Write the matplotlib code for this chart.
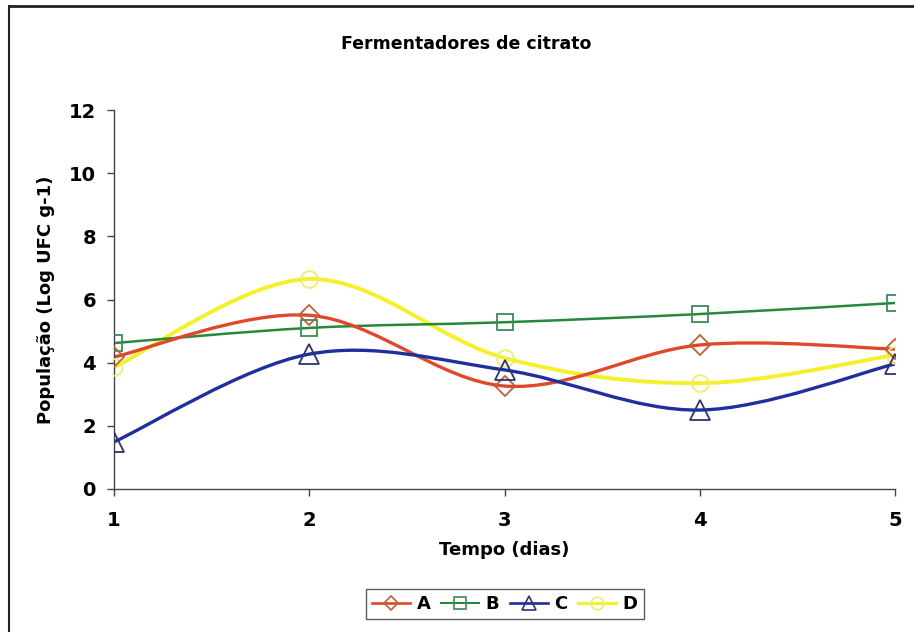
import numpy as np
import matplotlib
matplotlib.use("Agg")
import matplotlib.pyplot as plt
from matplotlib.path import Path
from matplotlib.patches import PathPatch
from matplotlib.lines import Line2D

# population counts per fermenter (log UFC/g) by sampling day
dias = [1, 2, 3, 4, 5]
pop_a = [4.18, 5.50, 3.26, 4.56, 4.43]
pop_b = [4.62, 5.10, 5.28, 5.54, 5.89]
pop_c = [1.49, 4.27, 3.77, 2.50, 3.96]
pop_d = [3.86, 6.65, 4.15, 3.35, 4.24]
series = ['A', 'B', 'C', 'D']


def smooth_path(x, y):
    # Excel-style smoothed line: cubic Bezier through every point
    x = np.asarray(x, float)
    y = np.asarray(y, float)
    n = len(x)
    verts = [(x[0], y[0])]
    codes = [Path.MOVETO]
    for i in range(n - 1):
        x0, y0 = (x[i - 1], y[i - 1]) if i > 0 else (x[i], y[i])
        x3, y3 = (x[i + 2], y[i + 2]) if i + 2 < n else (x[i + 1], y[i + 1])
        c1 = (x[i] + (x[i + 1] - x0) / 6, y[i] + (y[i + 1] - y0) / 6)
        c2 = (x[i + 1] - (x3 - x[i]) / 6, y[i + 1] - (y3 - y[i]) / 6)
        verts += [c1, c2, (x[i + 1], y[i + 1])]
        codes += [Path.CURVE4] * 3
    return Path(verts, codes)


styles = {
    'A': dict(y=pop_a, line='#e0482c', edge='#c0603a', marker='D', ms=10, lw=2.4),
    'B': dict(y=pop_b, line='#27873a', edge='#3c8a58', marker='s', ms=12, lw=1.8),
    'C': dict(y=pop_c, line='#1f2f9e', edge='#2c3570', marker='^', ms=14, lw=2.4),
    'D': dict(y=pop_d, line='#f4f02a', edge='#f0ec70', marker='o', ms=12, lw=2.8),
}
order = ['D', 'B', 'A', 'C']

fig = plt.figure(figsize=(9.14, 6.32), dpi=100)
ax = fig.add_axes([114 / 914, 1 - 489 / 632, (895 - 114) / 914, (489 - 110) / 632])

handles = {}
for k in order:
    st = styles[k]
    ax.add_patch(PathPatch(smooth_path(dias, st['y']), fill=False,
                           edgecolor=st['line'], lw=st['lw'], zorder=2))
    ax.plot(dias, st['y'], linestyle='none', marker=st['marker'], ms=st['ms'],
            mfc='none', mec=st['edge'], mew=1.3, zorder=3)
for k in series:
    st = styles[k]
    handles[k] = Line2D([], [], color=st['line'], lw=st['lw'] * 0.8,
                        marker=st['marker'], ms=st['ms'] * 0.75, mfc='none',
                        mec=st['edge'], mew=1.2)

ax.set_xlim(1, 5)
ax.set_ylim(0, 12)
ax.set_xticks(dias)
ax.set_yticks(range(0, 13, 2))
for s in ('top', 'right'):
    ax.spines[s].set_visible(False)
for s in ('left', 'bottom'):
    ax.spines[s].set_color('#444444')
    ax.spines[s].set_linewidth(1.0)
ax.tick_params(direction='out', length=5, width=1, color='#444444',
               labelsize=14)
ax.tick_params(axis='x', pad=11)
ax.tick_params(axis='y', pad=8)
for lab in ax.get_xticklabels() + ax.get_yticklabels():
    lab.set_fontweight('bold')
ax.set_xlabel('Tempo (dias)', fontsize=13, fontweight='bold', labelpad=8)
ax.set_ylabel('População (Log UFC g-1)', fontsize=13, fontweight='bold', labelpad=10)

fig.text(466 / 914, 1 - 44 / 632, 'Fermentadores de citrato', ha='center',
         va='center', fontsize=12.5, fontweight='bold')

leg = fig.legend([handles[k] for k in series], series, loc='center',
                 bbox_to_anchor=(505 / 914, 1 - 604 / 632), ncol=4,
                 frameon=True, fancybox=False, handlelength=2.1,
                 handletextpad=0.35, columnspacing=0.6, borderpad=0.35,
                 borderaxespad=0, prop={'weight': 'bold', 'size': 13})
leg.get_frame().set_edgecolor('#333333')
leg.get_frame().set_linewidth(1.0)

# outer chart border (left and top edges)
fig.add_artist(Line2D([9 / 914, 9 / 914], [0, 1 - 6 / 632], color='#222222', lw=1.5))
fig.add_artist(Line2D([9 / 914, 1], [1 - 6 / 632, 1 - 6 / 632], color='#222222', lw=2))

fig.savefig('out.png', dpi=100)
